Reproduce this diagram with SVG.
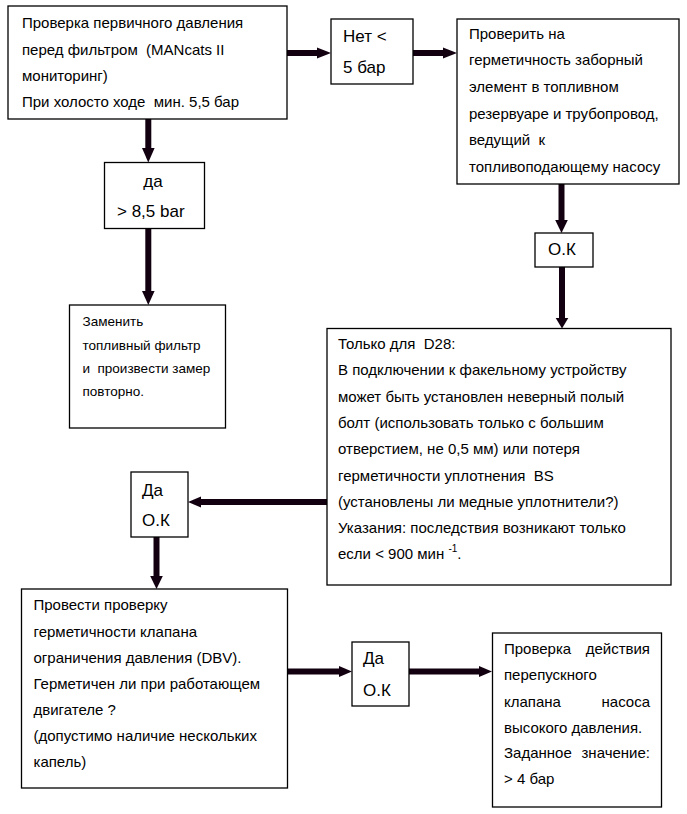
<svg xmlns="http://www.w3.org/2000/svg" width="687" height="814" viewBox="0 0 687 814">
<style>
text{white-space:pre}
.box{fill:#fff;stroke:#000;stroke-width:1.3}
.t{font-family:"Liberation Sans",Arial,sans-serif;font-size:15px;fill:#000}
.s{font-family:"Liberation Sans",Arial,sans-serif;font-size:13.5px;fill:#000}
.b{font-family:"Liberation Sans",Arial,sans-serif;font-size:17px;fill:#000}
.c{stroke:#120010;stroke-width:6;fill:none}
.h{fill:#120010}
</style>
<rect width="687" height="814" fill="#fff"/>
<g id="connectors">
<line class="c" x1="287" y1="53" x2="318" y2="53"/><polygon class="h" points="317,47.5 331,53 317,58.5"/>
<line class="c" x1="413" y1="53" x2="444" y2="53"/><polygon class="h" points="443,47.5 457,53 443,58.5"/>
<line class="c" x1="148.3" y1="119" x2="148.3" y2="149"/><polygon class="h" points="142,148 154.6,148 148.3,162.5"/>
<line class="c" x1="148.3" y1="228" x2="148.3" y2="292"/><polygon class="h" points="142,291 154.6,291 148.3,305"/>
<line class="c" x1="561.5" y1="184" x2="561.5" y2="222"/><polygon class="h" points="555.2,220 567.8,220 561.5,233"/>
<line class="c" x1="562" y1="267" x2="562" y2="320"/><polygon class="h" points="555.7,318 568.3,318 562,328.5"/>
<line class="c" x1="327" y1="502" x2="200" y2="502"/><polygon class="h" points="201,496.5 188,502 201,507.5"/>
<line class="c" x1="156.5" y1="537" x2="156.5" y2="577"/><polygon class="h" points="150.2,576 162.8,576 156.5,589"/>
<line class="c" x1="287" y1="671.5" x2="340" y2="671.5"/><polygon class="h" points="339,666 352,671.5 339,677"/>
<line class="c" x1="409" y1="671.5" x2="480" y2="671.5"/><polygon class="h" points="479,666 492,671.5 479,677"/>
</g>
<g id="n1">
<rect class="box" x="8" y="6" width="279" height="113"/>
<text class="t" x="22" y="28">Проверка первичного давления</text>
<text class="t" x="22" y="54.5">перед фильтром  (MANcats II</text>
<text class="t" x="22" y="81">мониторинг)</text>
<text class="t" x="22" y="107">При холосто ходе  мин. 5,5 бар</text>
</g>
<g id="n2">
<rect class="box" x="331" y="19" width="82" height="65"/>
<text class="b" x="343" y="42">Нет &lt;</text>
<text class="b" x="343" y="73">5 бар</text>
</g>
<g id="n3">
<rect class="box" x="457" y="19" width="222" height="165"/>
<text class="t" x="469" y="38.5">Проверить на</text>
<text class="t" x="469" y="65">герметичность заборный</text>
<text class="t" x="469" y="92">элемент в топливном</text>
<text class="t" x="469" y="118.5">резервуаре и трубопровод,</text>
<text class="t" x="469" y="145">ведущий  к</text>
<text class="t" x="469" y="171.5">топливоподающему насосу</text>
</g>
<g id="n4">
<rect class="box" x="104.5" y="162.5" width="100" height="66"/>
<text class="b" x="153" y="187" text-anchor="middle">да</text>
<text class="b" x="117" y="216.5">&gt; 8,5 bar</text>
</g>
<g id="n5">
<rect class="box" x="69.5" y="305" width="156" height="123"/>
<text class="s" x="82.5" y="326">Заменить</text>
<text class="s" x="82.5" y="349.5">топливный фильтр</text>
<text class="s" x="82.5" y="373">и  произвести замер</text>
<text class="s" x="82.5" y="395.5">повторно.</text>
</g>
<g id="n6">
<rect class="box" x="535" y="233" width="58" height="34"/>
<text class="b" x="562" y="255" text-anchor="middle">О.К</text>
</g>
<g id="n7">
<rect class="box" x="327" y="328.5" width="344" height="256.5"/>
<text class="t" x="338" y="348.5">Только для  D28:</text>
<text class="t" x="338" y="375">В подключении к факельному устройству</text>
<text class="t" x="338" y="401.5">может быть установлен неверный полый</text>
<text class="t" x="338" y="428">болт (использовать только с большим</text>
<text class="t" x="338" y="454">отверстием, не 0,5 мм) или потеря</text>
<text class="t" x="338" y="480.5">герметичности уплотнения  BS</text>
<text class="t" x="338" y="507">(установлены ли медные уплотнители?)</text>
<text class="t" x="338" y="533">Указания: последствия возникают только</text>
<text class="t" x="338" y="559">если &lt; 900 мин <tspan font-size="10" dy="-7">-1</tspan><tspan dy="7">.</tspan></text>
</g>
<g id="n8">
<rect class="box" x="131" y="472" width="57" height="65"/>
<text class="b" x="142" y="496">Да</text>
<text class="b" x="142" y="526">О.К</text>
</g>
<g id="n9">
<rect class="box" x="21.5" y="589" width="266" height="199"/>
<text class="t" x="33.5" y="610">Провести проверку</text>
<text class="t" x="33.5" y="636.5">герметичности клапана</text>
<text class="t" x="33.5" y="662.5">ограничения давления (DBV).</text>
<text class="t" x="33.5" y="688.5">Герметичен ли при работающем</text>
<text class="t" x="33.5" y="714.5">двигателе ?</text>
<text class="t" x="33.5" y="740.5">(допустимо наличие нескольких</text>
<text class="t" x="33.5" y="767">капель)</text>
</g>
<g id="n10">
<rect class="box" x="352" y="642" width="57" height="64"/>
<text class="b" x="363" y="664">Да</text>
<text class="b" x="363" y="696">О.К</text>
</g>
<g id="n11">
<rect class="box" x="492.5" y="633" width="169" height="174"/>
<text class="t" x="504" y="654">Проверка</text><text class="t" x="650" y="654" text-anchor="end">действия</text>
<text class="t" x="504" y="680">перепускного</text>
<text class="t" x="504" y="706.5">клапана</text><text class="t" x="650" y="706.5" text-anchor="end">насоса</text>
<text class="t" x="504" y="732.5">высокого давления.</text>
<text class="t" x="504" y="758">Заданное</text><text class="t" x="650" y="758" text-anchor="end">значение:</text>
<text class="t" x="504" y="784">&gt; 4 бар</text>
</g>
</svg>
